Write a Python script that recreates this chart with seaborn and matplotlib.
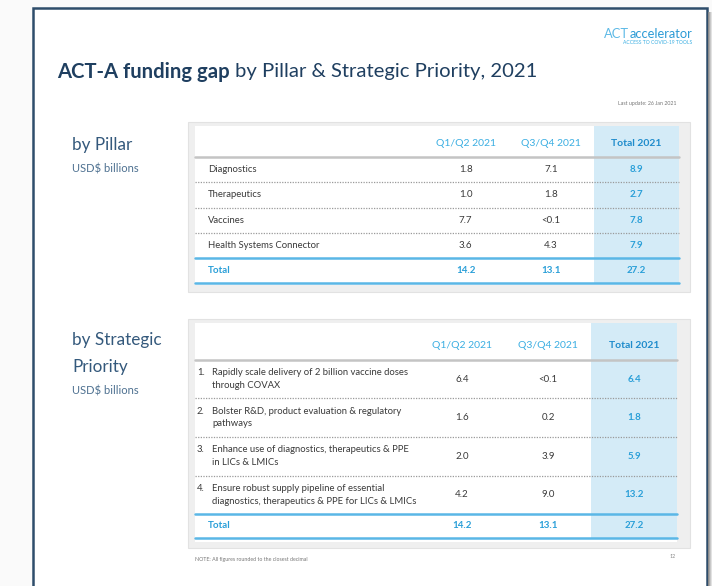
import numpy as np
import pandas as pd
import matplotlib
matplotlib.use('Agg')
import matplotlib.pyplot as plt
import seaborn as sns
from matplotlib.colors import ListedColormap
from matplotlib.patches import Rectangle
from matplotlib.transforms import blended_transform_factory

# Данные: по направлениям (Pillar)
pillars = ['Diagnostics', 'Therapeutics', 'Vaccines', 'Health Systems Connector']
pillar_h1 = [1.8, 1.0, 7.7, 3.6]
pillar_h2 = [7.1, 1.8, '<0.1', 4.3]
pillar_total = [8.9, 2.7, 7.8, 7.9]

# Данные: по стратегическим приоритетам
priorities = ['Rapidly scale delivery of 2 billion vaccine doses\nthrough COVAX',
              'Bolster R&D, product evaluation & regulatory\npathways',
              'Enhance use of diagnostics, therapeutics & PPE\nin LICs & LMICs',
              'Ensure robust supply pipeline of essential\ndiagnostics, therapeutics & PPE for LICs & LMICs']
prio_h1 = [6.4, 1.6, 2.0, 4.2]
prio_h2 = ['<0.1', 0.2, 3.9, 9.0]
prio_total = [6.4, 1.8, 5.9, 13.2]

col_labels = ['Q1/Q2 2021', 'Q3/Q4 2021', 'Total 2021']
grand_total = [14.2, 13.1, 27.2]

W, H = 712, 586
FONT = 'Lato'
NAVY = '#1f3f60'
SLATE = '#34597c'
BLUE = '#2a9fd8'
LBLUE = '#3aaee2'
HL = '#d4ebf7'
GREY_TXT = '#3a3a3a'

sns.set_theme(style='white')
plt.rcParams['font.family'] = [FONT, 'DejaVu Sans']

fig = plt.figure(figsize=(W / 100, H / 100), dpi=100)
fig.patch.set_facecolor('white')


def fr(x0, y0, x1, y1):
    return [x0 / W, 1 - y1 / H, (x1 - x0) / W, (y1 - y0) / H]


def fmt(v):
    return v if isinstance(v, str) else f'{v:.1f}'


bg = fig.add_axes([0, 0, 1, 1])
bg.set_xlim(0, W)
bg.set_ylim(H, 0)
bg.axis('off')

# рамка слайда и тень
bg.add_patch(Rectangle((0, 0), W, H, color='#fafafa', zorder=0))
bg.add_patch(Rectangle((33, 8), 674, H, facecolor='white', edgecolor='#2e4d6b', lw=1.8, zorder=1))
for k, c in enumerate(['#8a8a8a', '#a8a8a8', '#c8c8c8', '#e2e2e2']):
    bg.add_patch(Rectangle((708 + k, 12), 1, H, color=c, zorder=1, lw=0))

# заголовок
t1 = bg.text(57, 72, 'ACT-A funding gap', fontsize=14.6, fontweight='bold', color=NAVY, va='center')
bg.annotate(' by Pillar & Strategic Priority, 2021', xy=(1, 0.5), xycoords=t1, fontsize=14.6,
            color=NAVY, va='center', ha='left')
ta = bg.text(692, 34, 'accelerator', fontsize=9.3, color='#2c9bd6', ha='right', va='center')
bg.annotate('ACT', xy=(0, 0.5), xycoords=ta, fontsize=9.3, color='#5cb9e6', ha='right', va='center')
bg.text(692, 42.5, 'ACCESS TO COVID-19 TOOLS', fontsize=3.6, color=LBLUE, ha='right', va='center')
bg.text(676, 103, 'Last update: 26 Jan 2021', fontsize=3.8, color='#777777', ha='right', va='center')
bg.text(72, 145, 'by Pillar', fontsize=12.3, color=SLATE, va='center')
bg.text(72, 169, 'USD$ billions', fontsize=8, color='#4d7090', va='center')
bg.text(72, 340, 'by Strategic', fontsize=12.3, color=SLATE, va='center')
bg.text(72, 367, 'Priority', fontsize=12.3, color=SLATE, va='center')
bg.text(72, 391, 'USD$ billions', fontsize=8, color='#4d7090', va='center')
bg.text(195, 560, 'NOTE: All figures rounded to the closest decimal', fontsize=3.8, color='#777777', va='center')
bg.text(670, 557, '12', fontsize=3.8, color='#888888', va='center')


def draw_table(panel, inner, xcols, y_head, y_body, y_tot, labels, h1, h2, tot, numbered):
    x0, x1 = inner[0], inner[2]
    bg.add_patch(Rectangle((panel[0], panel[1]), panel[2] - panel[0], panel[3] - panel[1],
                           facecolor='#efefef', edgecolor='#e2e2e2', lw=0.8, zorder=2))
    bg.add_patch(Rectangle((x0, inner[1]), x1 - x0, inner[3] - inner[1], facecolor='white', lw=0, zorder=3))
    cw = (x1 - xcols) / 3
    bg.add_patch(Rectangle((xcols + 2 * cw, inner[1]), cw, y_head[1] - inner[1], facecolor=HL, lw=0, zorder=4))
    for j, lab in enumerate(col_labels):
        bg.text(xcols + (j + 0.5) * cw, y_head[0], lab, fontsize=7.5, ha='center', va='center', zorder=5,
                color='#1f8ccc' if j == 2 else LBLUE, fontweight='bold' if j == 2 else 'normal')

    n = len(labels)
    body = pd.DataFrame({'h1': h1, 'h2': h2, 'tot': tot}, index=labels)
    flags = np.tile([0, 0, 1], (n, 1))
    annot = body.map(fmt).values
    cmap = ListedColormap(['white', HL])

    ax = fig.add_axes(fr(xcols, y_head[1], x1, y_body))
    sns.heatmap(flags, ax=ax, cmap=cmap, vmin=0, vmax=1, cbar=False, annot=annot, fmt='',
                xticklabels=False, yticklabels=False, annot_kws={'fontsize': 7})
    for k, t in enumerate(ax.texts):
        j = k % 3
        t.set_color(BLUE if j == 2 else GREY_TXT)
        t.set_fontweight('bold' if j == 2 else 'normal')
    tr = blended_transform_factory(bg.transData, ax.transData)
    for i, lab in enumerate(labels):
        if numbered:
            # номер стоит на уровне первой строки подписи
            ax.text(x0 + 2, i + 0.5, f'{i + 1}.\n ', transform=tr, fontsize=6.8, color=GREY_TXT,
                    va='center', clip_on=False, linespacing=1.5)
            ax.text(x0 + 17, i + 0.5, lab, transform=tr, fontsize=6.8, color=GREY_TXT,
                    va='center', clip_on=False, linespacing=1.5)
        else:
            ax.text(x0 + 13, i + 0.5, lab, transform=tr, fontsize=6.8, color=GREY_TXT,
                    va='center', clip_on=False)
    # линия под шапкой и пунктирные разделители строк
    ax.plot([x0, x1], [0, 0], transform=tr, color='#c4c4c4', lw=1.8, clip_on=False)
    for i in range(1, n):
        ax.plot([x0, x1], [i, i], transform=tr, color='#9a9a9a', lw=0.9, ls=(0, (1, 1.1)), clip_on=False)

    axt = fig.add_axes(fr(xcols, y_body, x1, y_tot))
    sns.heatmap(np.array([[0, 0, 1]]), ax=axt, cmap=cmap, vmin=0, vmax=1, cbar=False,
                annot=np.array([[fmt(v) for v in grand_total]]), fmt='',
                xticklabels=False, yticklabels=False,
                annot_kws={'fontsize': 7, 'fontweight': 'bold', 'color': BLUE})
    trt = blended_transform_factory(bg.transData, axt.transData)
    axt.text(x0 + 13, 0.5, 'Total', transform=trt, fontsize=7, fontweight='bold', color=BLUE,
             va='center', clip_on=False)
    axt.plot([x0, x1], [0, 0], transform=trt, color='#5ab7e6', lw=1.8, clip_on=False)
    axt.plot([x0, x1], [1, 1], transform=trt, color='#5ab7e6', lw=1.8, clip_on=False)


draw_table((188, 122, 690, 292), (195, 126, 679, 285), 423, (143, 157), 258, 283,
           pillars, pillar_h1, pillar_h2, pillar_total, False)
draw_table((188, 319, 690, 548), (195, 323, 677, 542), 419, (346, 360), 514, 538,
           priorities, prio_h1, prio_h2, prio_total, True)

fig.savefig('out.png', dpi=100)
